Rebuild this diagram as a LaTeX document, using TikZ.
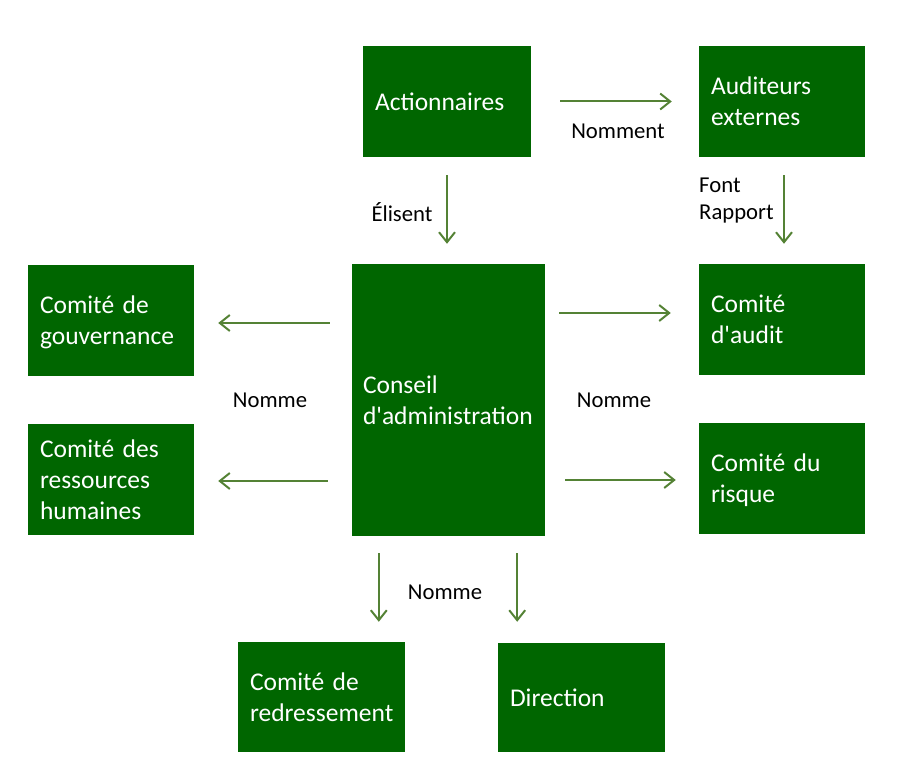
\documentclass[tikz,border=0pt]{standalone}
\usepackage{fontspec}
\setmainfont{Carlito}[Ligatures=TeXOff]
\usetikzlibrary{arrows.meta}
\definecolor{boxgreen}{RGB}{0,102,0}
\definecolor{arrgreen}{RGB}{84,130,53}
\tikzset{
  box/.style={rectangle, fill=boxgreen, text=white, inner xsep=12pt, inner ysep=0pt,
    align=left, font=\fontsize{25.5}{31}\selectfont, anchor=center},
  mbox/.style={box, text depth=31pt},
  tbox/.style={box, text depth=62pt},
  arr/.style={draw=arrgreen, line width=2pt, -{Straight Barb[length=10pt,width=16pt,line width=2pt]}},
  lab/.style={font=\fontsize{22.7}{27.5}\selectfont, inner sep=0pt, text=black}
}
\begin{document}
\begin{tikzpicture}[x=1pt,y=-1pt]
\useasboundingbox (0,0) rectangle (900,759);
% nodes
\node[box, text width=144pt, minimum height=111pt] (act) at (447,101.5) {Actionnaires};
\node[mbox, text width=142pt, minimum height=111pt] (aud) at (782,101.5) {Auditeurs\\externes};
\node[mbox, text width=142pt, minimum height=111pt] (gouv) at (111,320.5) {Comité de\\gouvernance};
\node[mbox, inner xsep=11pt, text width=171pt, minimum height=272pt] (ca) at (448.5,400) {Conseil\\d'administration};
\node[mbox, text width=142pt, minimum height=111pt] (audit) at (782,319.5) {Comité\\d'audit};
\node[tbox, text width=142pt, minimum height=111pt] (rh) at (111,479.5) {Comité des\\ressources\\humaines};
\node[mbox, text width=142pt, minimum height=111pt] (risk) at (782,478.5) {Comité du\\risque};
\node[mbox, text width=143pt, minimum height=110pt] (redr) at (321.5,697) {Comité de\\redressement};
\node[box, text width=143pt, minimum height=109pt] (dir) at (581.5,697.5) {Direction};
% labels
\node[lab] (lnomment) at (618,131) {Nomment};
\node[lab] (lelisent) at (402,212) {Élisent};
\node[lab, anchor=west, align=left] (lfont) at (699,200.5) {Font\\Rapport};
\node[lab] (lnommeg) at (270,400) {Nomme};
\node[lab] (lnommed) at (614,400) {Nomme};
\node[lab] (lnommeb) at (445,592) {Nomme};
% connectors
\draw[arr, shorten <=29pt, shorten >=27pt] (act.east) -- (aud.west);
\draw[arr, shorten <=18pt, shorten >=20pt] (act.south) -- (act.south |- ca.north);
\draw[arr, shorten <=18pt, shorten >=20pt] ([xshift=2pt]aud.south) -- ([xshift=2pt]aud.south |- audit.north);
\draw[arr, shorten <=22pt, shorten >=24pt] ([yshift=-2.5pt]ca.west |- gouv) -- ([yshift=-2.5pt]gouv.east);
\draw[arr, shorten <=24pt, shorten >=24pt] ([yshift=-1.5pt]ca.west |- rh) -- ([yshift=-1.5pt]rh.east);
\draw[arr, shorten <=14pt, shorten >=28pt] ([yshift=6.5pt]ca.east |- audit) -- ([yshift=6.5pt]audit.west);
\draw[arr, shorten <=20pt, shorten >=23pt] ([yshift=-1.5pt]ca.east |- risk) -- ([yshift=-1.5pt]risk.west);
\draw[arr, shorten <=17pt, shorten >=20pt] ([xshift=27pt]ca.south west) -- ([xshift=27pt]ca.south west |- redr.north);
\draw[arr, shorten <=17pt, shorten >=21pt] ([xshift=-28pt]ca.south east) -- ([xshift=-28pt]ca.south east |- dir.north);
\end{tikzpicture}
\end{document}
